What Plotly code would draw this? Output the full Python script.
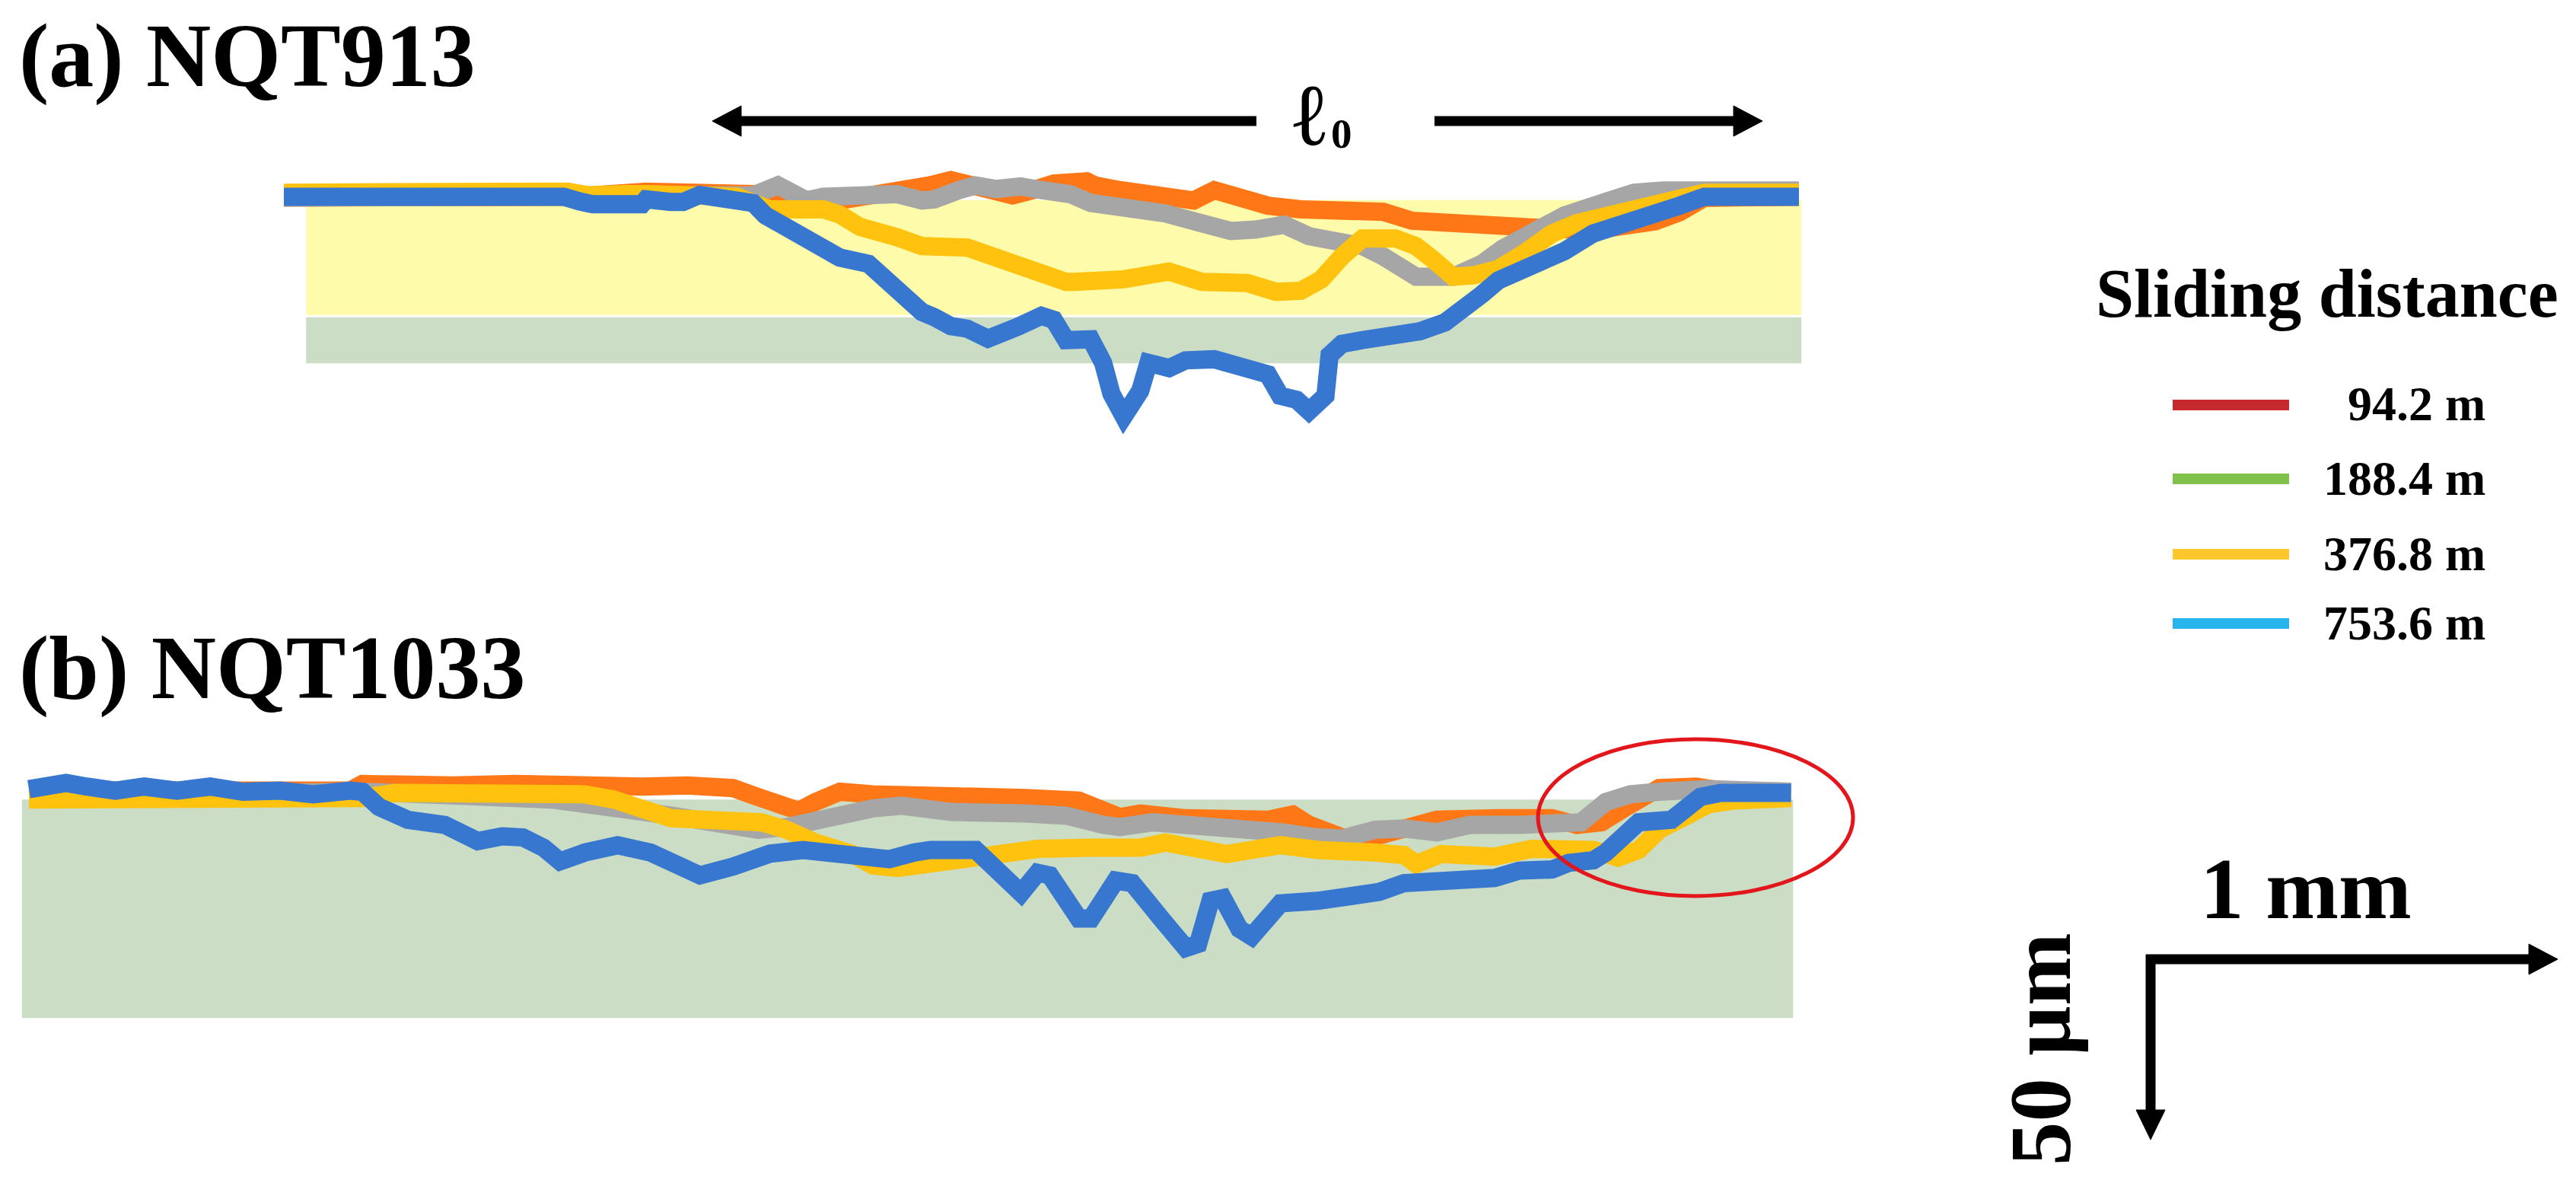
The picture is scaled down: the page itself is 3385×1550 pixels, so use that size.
import plotly.graph_objects as go

W, H = 3385, 1550

# ---------------- data ----------------
distances = ["94.2 m", "188.4 m", "376.8 m", "753.6 m"]
line_colors = ["#FF7716", "#A6A6A6", "#FFC20E", "#3777D0"]
legend_colors = ["#C62A2F", "#80C14B", "#FFC72C", "#28B4EC"]

# Panel (a) NQT913 : x in mm, depth in µm
a_x_orange = [0.00, 0.56, 0.70, 0.88, 1.09, 1.14, 1.20, 1.27, 1.35, 1.40, 1.51, 1.57, 1.62, 1.66, 1.73, 1.77, 1.82, 1.87, 1.95, 1.97,
              2.03, 2.10, 2.21, 2.26, 2.32, 2.39, 2.47, 2.62, 2.67, 2.74, 2.84, 2.91, 3.00, 3.09, 3.18, 3.26, 3.33, 3.39, 3.45, 3.68]
a_d_orange = [-0.5, -0.9, -0.3, 1.1, 0.8, 0.4, -1.3, -2.0, -1.3, -0.6, 2.1, 2.8, 4.2, 2.8, 0.4, 0.1, 1.5, 3.3, 3.9, 2.8,
              1.5, 0.4, -1.3, 1.5, -0.3, -2.7, -3.7, -4.1, -4.4, -6.8, -7.5, -8.9, -9.2, -9.0, -9.4, -8.6, -7.0, -4.5, -0.6, -0.3]

a_x_gray = [0.00, 0.99, 1.14, 1.20, 1.25, 1.27, 1.31, 1.40, 1.49, 1.55, 1.58, 1.64, 1.68, 1.73, 1.79, 1.84, 1.91, 1.96, 2.08, 2.14,
            2.23, 2.30, 2.36, 2.43, 2.49, 2.56, 2.62, 2.67, 2.73, 2.75, 2.84, 2.91, 2.96, 3.04, 3.11, 3.21, 3.28, 3.35, 3.68]
a_d_gray = [-0.5, -1.0, 0.1, 2.8, -0.3, -1.3, -0.3, 0.4, 0.4, -1.3, -1.0, 1.5, 2.8, 1.8, 2.5, 1.5, 0.4, -2.0, -3.4, -4.8,
            -7.5, -9.6, -9.2, -7.9, -11.0, -13.0, -13.7, -16.5, -21.3, -22.0, -22.0, -18.5, -14.4, -8.9, -5.4, -1.7, 0.8, 1.4, 1.4]

a_x_gold = [0.00, 0.47, 0.49, 0.69, 0.74, 0.79, 0.83, 0.88, 1.10, 1.18, 1.31, 1.35, 1.40, 1.49, 1.55, 1.66, 1.70, 1.79, 1.86, 1.90,
            1.92, 2.04, 2.15, 2.23, 2.34, 2.41, 2.47, 2.52, 2.57, 2.62, 2.70, 2.75, 2.79, 2.82, 2.84, 2.89, 2.95, 3.01, 3.08, 3.14,
            3.21, 3.30, 3.37, 3.45, 3.68]
a_d_gold = [0.8, 0.8, 1.5, 1.1, 0.1, 0.8, 0.4, 0.4, -0.3, -3.7, -3.7, -5.1, -8.5, -11.3, -13.7, -14.1, -15.8, -18.5, -22.3, -23.4,
            -23.4, -22.7, -20.6, -23.4, -23.7, -26.1, -25.8, -22.7, -16.5, -11.6, -11.6, -13.7, -17.2, -20.6, -22.0, -21.6, -19.9, -15.8, -10.3, -7.5,
            -5.4, -2.7, -0.6, 0.8, 0.8]

a_x_blue = [0.00, 0.68, 0.72, 0.75, 0.87, 0.88, 0.94, 0.97, 1.01, 1.09, 1.14, 1.17, 1.22, 1.27, 1.31, 1.35, 1.42, 1.44, 1.47, 1.51,
            1.55, 1.58, 1.62, 1.66, 1.71, 1.78, 1.84, 1.87, 1.90, 1.96, 1.99, 2.01, 2.04, 2.08, 2.10, 2.15, 2.19, 2.26, 2.31, 2.35,
            2.39, 2.42, 2.46, 2.49, 2.53, 2.54, 2.57, 2.62, 2.70, 2.76, 2.82, 2.87, 2.91, 2.95, 3.00, 3.05, 3.11, 3.18, 3.23, 3.31,
            3.39, 3.45, 3.68]
a_d_blue = [-0.3, -0.3, -1.6, -2.3, -2.3, -1.0, -1.7, -1.7, 0.2, -0.6, -2.0, -5.4, -8.9, -11.6, -15.4, -16.8, -18.5, -20.6, -24.7, -27.5,
            -31.6, -33.0, -35.4, -36.1, -38.8, -35.7, -32.6, -33.7, -39.2, -39.0, -45.4, -53.7, -59.9, -53.0, -45.4, -46.8, -44.7, -44.4, -46.1, -48.1,
            -48.5, -54.3, -55.4, -58.5, -54.3, -43.3, -40.2, -39.2, -37.8, -36.8, -34.4, -30.9, -26.8, -23.0, -20.6, -18.9, -15.1, -10.3, -8.2, -5.8,
            -2.7, -0.3, -0.3]

# Panel (b) NQT1033
b_x_orange = [0.00, 0.78, 0.81, 0.92, 1.03, 1.18, 1.35, 1.49, 1.60, 1.71, 1.77, 1.83, 1.87, 1.91, 1.97, 2.05, 2.35, 2.42, 2.55, 2.61,
              2.65, 2.70, 2.81, 3.01, 3.07, 3.11, 3.19, 3.24, 3.30, 3.42, 3.57, 3.70, 3.76, 3.82, 3.88, 3.93, 3.96, 4.05, 4.11, 4.28]
b_d_orange = [0.3, 0.3, 2.1, 1.4, 1.7, 2.1, 1.4, 1.4, 1.7, 1.0, -1.4, -4.1, -5.2, -2.8, 0.0, -0.7, -0.7, -1.7, -2.4, -5.5,
              -6.9, -5.9, -7.2, -7.6, -6.2, -9.0, -12.4, -13.1, -11.0, -7.6, -7.2, -7.2, -9.0, -8.3, -4.1, -0.7, 1.0, 1.4, 0.3, 0.0]

b_x_gray = [0.00, 0.78, 0.81, 1.27, 1.35, 1.42, 1.49, 1.56, 1.70, 1.77, 1.84, 1.91, 1.98, 2.05, 2.12, 2.24, 2.42, 2.52, 2.61, 2.65,
            2.73, 2.82, 2.94, 3.04, 3.13, 3.19, 3.27, 3.34, 3.42, 3.50, 3.62, 3.73, 3.77, 3.83, 3.89, 3.96, 4.08, 4.28]
b_d_gray = [-1.0, -1.0, 0.0, -2.1, -3.1, -4.8, -5.9, -6.5, -9.0, -10.3, -9.6, -7.6, -6.5, -4.5, -3.8, -5.5, -5.9, -6.5, -9.0, -9.6,
            -8.3, -9.0, -9.0, -11.0, -12.4, -12.7, -10.3, -10.0, -11.0, -9.0, -9.0, -9.0, -8.3, -2.8, -0.7, 0.0, 0.7, 0.0]

b_x_gold = [0.00, 0.36, 0.64, 0.81, 0.89, 1.35, 1.42, 1.49, 1.56, 1.70, 1.78, 1.84, 1.91, 2.00, 2.05, 2.11, 2.19, 2.27, 2.35, 2.45,
            2.58, 2.70, 2.76, 2.82, 2.91, 3.04, 3.13, 3.27, 3.34, 3.37, 3.43, 3.56, 3.65, 3.80, 3.86, 3.91, 3.96, 4.02, 4.08, 4.14, 4.28]
b_d_gold = [-2.1, -1.4, -1.7, -1.7, -0.3, -0.7, -2.1, -4.5, -7.2, -7.9, -8.3, -10.3, -13.8, -16.9, -20.0, -20.7, -19.3, -17.9, -16.5, -15.5,
            -15.2, -15.2, -13.8, -15.2, -16.9, -14.5, -15.8, -16.5, -17.2, -19.6, -16.9, -17.6, -15.5, -15.8, -17.9, -15.8, -10.3, -6.9, -3.4, -2.4, -1.7]

b_x_blue = [0.00, 0.09, 0.14, 0.21, 0.28, 0.36, 0.44, 0.52, 0.61, 0.69, 0.78, 0.81, 0.85, 0.92, 1.01, 1.06, 1.09, 1.15, 1.20, 1.25,
            1.29, 1.35, 1.43, 1.51, 1.57, 1.63, 1.71, 1.80, 1.88, 1.97, 2.05, 2.09, 2.15, 2.19, 2.30, 2.33, 2.38, 2.41, 2.45, 2.48,
            2.55, 2.58, 2.64, 2.68, 2.75, 2.81, 2.84, 2.87, 2.90, 2.94, 2.97, 3.01, 3.04, 3.13, 3.22, 3.28, 3.34, 3.42, 3.50, 3.56,
            3.62, 3.70, 3.74, 3.80, 3.83, 3.88, 3.91, 3.99, 4.02, 4.06, 4.11, 4.28]
b_d_blue = [0.7, 2.4, 1.4, 0.3, 1.4, 0.3, 1.4, 0.0, 0.3, -0.7, 0.3, 0.0, -4.1, -7.6, -9.0, -11.7, -13.4, -12.1, -12.4, -15.2,
            -18.9, -16.5, -14.5, -16.5, -19.3, -22.7, -20.3, -16.8, -15.8, -17.2, -18.6, -18.3, -16.5, -15.8, -15.8, -19.3, -25.5, -27.5, -22.0, -22.7,
            -34.4, -34.4, -24.1, -24.8, -34.4, -42.4, -41.3, -29.6, -28.9, -37.2, -39.3, -35.1, -30.3, -29.6, -28.2, -27.2, -24.8, -24.4, -24.8, -23.4,
            -21.4, -21.1, -19.3, -18.6, -16.5, -11.0, -8.3, -7.6, -4.8, -1.4, -0.3, -0.3]

# material layers (x extent in mm, depth in µm)
a_layer_x = [0.054, 3.686]
a_coating = [-1.2, -32.4]
a_substrate = [-33.0, -45.5]
b_layer_x = [-0.017, 4.285]
b_substrate = [-2.1, -61.4]

panel_titles = ["(a) NQT913", "(b) NQT1033"]
legend_title = "Sliding distance"

# ---------------- layout helpers ----------------
KX = 541.0    # px per mm
KY = 4.84     # px per µm
FONT = "Liberation Serif, Times New Roman, serif"
LINE_W = 24


def px(x):
    return x / W


def py(y):
    return 1 - y / H


fig = go.Figure()

a_series = [(a_x_orange, a_d_orange), (a_x_gray, a_d_gray), (a_x_gold, a_d_gold), (a_x_blue, a_d_blue)]
b_series = [(b_x_orange, b_d_orange), (b_x_gray, b_d_gray), (b_x_gold, b_d_gold), (b_x_blue, b_d_blue)]

for (xs, ds), name, col in zip(a_series, distances, line_colors):
    fig.add_trace(go.Scatter(x=xs, y=ds, mode="lines", name=name, showlegend=False,
                             line=dict(color=col, width=LINE_W), xaxis="x", yaxis="y"))
for (xs, ds), name, col in zip(b_series, distances, line_colors):
    fig.add_trace(go.Scatter(x=xs, y=ds, mode="lines", name=name, showlegend=False,
                             line=dict(color=col, width=LINE_W), xaxis="x2", yaxis="y2"))

# layer bands
fig.add_shape(type="rect", xref="x", yref="y", x0=a_layer_x[0], x1=a_layer_x[1],
              y0=a_coating[1], y1=a_coating[0], fillcolor="#FEFCAA", line_width=0, layer="below")
fig.add_shape(type="rect", xref="x", yref="y", x0=a_layer_x[0], x1=a_layer_x[1],
              y0=a_substrate[1], y1=a_substrate[0], fillcolor="#CBDDC4", line_width=0, layer="below")
fig.add_shape(type="rect", xref="x2", yref="y2", x0=b_layer_x[0], x1=b_layer_x[1],
              y0=b_substrate[1], y1=b_substrate[0], fillcolor="#CBDDC4", line_width=0, layer="below")


def add_arrow(tail, tip, width=13, head_len=38, head_half=20, color="black"):
    tx, ty = tail
    hx, hy = tip
    L = ((hx - tx) ** 2 + (hy - ty) ** 2) ** 0.5
    ux, uy = (hx - tx) / L, (hy - ty) / L
    nx, ny = -uy, ux
    bx, by = hx - ux * head_len, hy - uy * head_len
    fig.add_shape(type="line", xref="paper", yref="paper",
                  x0=px(tx), y0=py(ty), x1=px(bx + ux * 2), y1=py(by + uy * 2),
                  line=dict(color=color, width=width))
    p1 = (bx + nx * head_half, by + ny * head_half)
    p2 = (bx - nx * head_half, by - ny * head_half)
    path = "M {:.6f},{:.6f} L {:.6f},{:.6f} L {:.6f},{:.6f} Z".format(
        px(hx), py(hy), px(p1[0]), py(p1[1]), px(p2[0]), py(p2[1]))
    fig.add_shape(type="path", xref="paper", yref="paper", path=path,
                  fillcolor=color, line=dict(color=color, width=1))


def add_text(text, x, y, size, xanchor="center", angle=0):
    fig.add_annotation(text=text, x=px(x), y=py(y), xref="paper", yref="paper",
                       xanchor=xanchor, yanchor="middle", showarrow=False, textangle=angle,
                       font=dict(family=FONT, size=size, color="black"))


# panel titles
add_text("<b>" + panel_titles[0] + "</b>", 23, 73, 118, xanchor="left")
add_text("<b>" + panel_titles[1] + "</b>", 23, 877, 118, xanchor="left")

# l0 span arrow
add_arrow((1651, 159), (936, 159))
add_arrow((1885, 159), (2316, 159))
add_text("<b>ℓ</b>", 1720, 151, 115)
add_text("<b>0</b>", 1763, 176, 55)

# red ellipse highlight
fig.add_shape(type="circle", xref="paper", yref="paper",
              x0=px(2021), x1=px(2435), y0=py(1177), y1=py(971),
              line=dict(color="#E3161C", width=5))

# legend
add_text("<b>" + legend_title + "</b>", 3058, 385, 90)
legend_y = [532, 629, 728, 819]
for name, col, yy in zip(distances, legend_colors, legend_y):
    fig.add_shape(type="line", xref="paper", yref="paper",
                  x0=px(2855), x1=px(3008), y0=py(yy), y1=py(yy),
                  line=dict(color=col, width=14))
    add_text("<b>" + name + "</b>", 3268, yy - 1, 64, xanchor="right")

# scale bar
add_arrow((2820, 1260), (3361, 1260), head_len=38, head_half=20)
add_arrow((2826, 1254), (2826, 1497), head_len=39, head_half=19)
add_text("<b>1 mm</b>", 3030, 1167, 115)
add_text("<b>50 µm</b>", 2681, 1378, 115, angle=-90)

# axes (hidden) placed so that 1 mm = KX px and 1 µm = KY px
ax_a = dict(ox=373, oy=257, xd=(300, 2450), yd=(200, 640))
ax_b = dict(ox=38, oy=1040, xd=(0, 2450), yd=(960, 1400))


def xaxis_for(a, **kw):
    return dict(domain=[px(a["xd"][0]), px(a["xd"][1])],
                range=[(a["xd"][0] - a["ox"]) / KX, (a["xd"][1] - a["ox"]) / KX],
                visible=False, showgrid=False, zeroline=False, fixedrange=True, **kw)


def yaxis_for(a, **kw):
    return dict(domain=[py(a["yd"][1]), py(a["yd"][0])],
                range=[(a["oy"] - a["yd"][1]) / KY, (a["oy"] - a["yd"][0]) / KY],
                visible=False, showgrid=False, zeroline=False, fixedrange=True, **kw)


fig.update_layout(
    width=W, height=H, autosize=False,
    margin=dict(l=0, r=0, t=0, b=0, pad=0),
    paper_bgcolor="white", plot_bgcolor="rgba(0,0,0,0)",
    showlegend=False,
    xaxis=xaxis_for(ax_a, anchor="y"),
    yaxis=yaxis_for(ax_a, anchor="x"),
    xaxis2=xaxis_for(ax_b, anchor="y2"),
    yaxis2=yaxis_for(ax_b, anchor="x2"),
)

fig.write_html("out.html", config={"displayModeBar": False},
               post_script="document.body.style.margin='0';document.body.style.overflow='hidden';")
